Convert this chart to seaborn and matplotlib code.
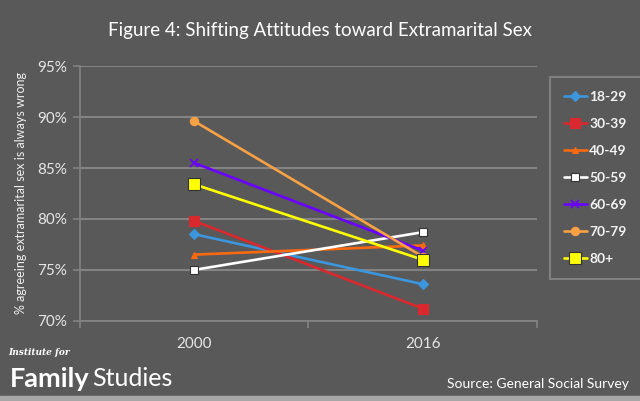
import matplotlib.pyplot as plt
import matplotlib.patches as mpatches
import seaborn as sns
import pandas as pd

years = ["2000", "2016"]
groups = ["18-29", "30-39", "40-49", "50-59", "60-69", "70-79", "80+"]
values_2000 = [78.5, 79.8, 76.5, 75.0, 85.5, 89.6, 83.4]
values_2016 = [73.6, 71.2, 77.4, 78.7, 76.9, 76.3, 76.0]

colors = ["#3b96dd", "#d9282e", "#f96a10", "#ffffff", "#6a00ff", "#f8a145", "#ffff00"]
markers = ["D", "s", "^", "s", "x", "o", "s"]
msizes = [5, 7, 5, 6, 6, 6, 8]

BG = "#595959"
GRID = "#838383"

rows = []
for g, a, b in zip(groups, values_2000, values_2016):
    rows.append({"year": years[0], "group": g, "pct": a})
    rows.append({"year": years[1], "group": g, "pct": b})
df = pd.DataFrame(rows)

sns.set_style("dark")
plt.rcParams["font.family"] = ["Lato", "DejaVu Sans"]

fig = plt.figure(figsize=(6.4, 4.01), dpi=100, facecolor=BG)
ax = fig.add_axes([0.125, 0.2, 0.714, 0.635])
ax.set_facecolor(BG)

for g, c, m, ms in zip(groups, colors, markers, msizes):
    sub = df[df["group"] == g]
    edge = "#333333" if g in ("50-59", "80+") else c
    sns.lineplot(data=sub, x="year", y="pct", ax=ax, color=c, marker=m,
                 markersize=ms, markeredgecolor=edge, markeredgewidth=0.8 if m != "x" else 1.2,
                 linewidth=1.9, label=g, sort=False)

ax.set_xlim(-0.5, 1.5)
ax.set_ylim(70, 95)
ax.set_yticks([70, 75, 80, 85, 90, 95])
ax.set_yticklabels([f"{v}%" for v in [70, 75, 80, 85, 90, 95]])
ax.set_xticks([0, 1])
ax.set_xticks([-0.5, 0.5, 1.5], minor=True)
ax.grid(axis="y", color=GRID, linewidth=1.5)
ax.grid(axis="x", visible=False)
ax.set_axisbelow(True)
for s in ["top", "right"]:
    ax.spines[s].set_visible(False)
for s in ["left", "bottom"]:
    ax.spines[s].set_visible(True)
    ax.spines[s].set_color(GRID)
    ax.spines[s].set_linewidth(1.2)
ax.tick_params(axis="y", which="major", left=True, length=5, color=GRID, width=1.2,
               labelsize=11, labelcolor="#e6e6e6", pad=4)
ax.tick_params(axis="x", which="major", bottom=False, labelsize=11, labelcolor="#e6e6e6", pad=8)
ax.tick_params(axis="x", which="minor", bottom=True, length=5, color=GRID, width=1.2)
ax.set_xlabel("")
ax.set_ylabel("% agreeing extramarital sex is always wrong", color="#f0f0f0", fontsize=9, labelpad=8)

handles, labels = ax.get_legend_handles_labels()
leg = ax.legend(handles, labels, loc="upper left", bbox_to_anchor=(0.86, 0.808),
                bbox_transform=fig.transFigure, frameon=True, fancybox=False,
                facecolor=BG, edgecolor="#8a8a8a", fontsize=10, labelcolor="#f2f2f2",
                handlelength=1.6, handletextpad=0.2, labelspacing=1.08, borderpad=1.0,
                borderaxespad=0)
leg.get_frame().set_linewidth(1.5)
for t in leg.get_texts():
    t.set_fontweight("bold")

fig.text(0.5, 0.925, "Figure 4: Shifting Attitudes toward Extramarital Sex", ha="center",
         va="center", color="white", fontsize=13.5)
fig.text(0.013, 0.12, "Institute for", color="white", fontsize=6.5, fontstyle="italic",
         fontweight="bold", family=["DejaVu Serif"], va="center")
t1 = fig.text(0.015, 0.055, "Family", color="white", fontsize=19.5, fontweight="bold", va="center")
fig.canvas.draw()
bb = t1.get_window_extent().transformed(fig.transFigure.inverted())
fig.text(bb.x1 + 0.004, 0.055, "Studies", color="white", fontsize=18, fontweight="normal", va="center")
fig.text(0.983, 0.042, "Source: General Social Survey", ha="right", va="center",
         color="white", fontsize=10)
fig.patches.append(mpatches.Rectangle((0, 0), 1, 0.012, transform=fig.transFigure,
                                      color="#a6a6a6", zorder=0))

fig.savefig("out.png", dpi=100, facecolor=BG)
